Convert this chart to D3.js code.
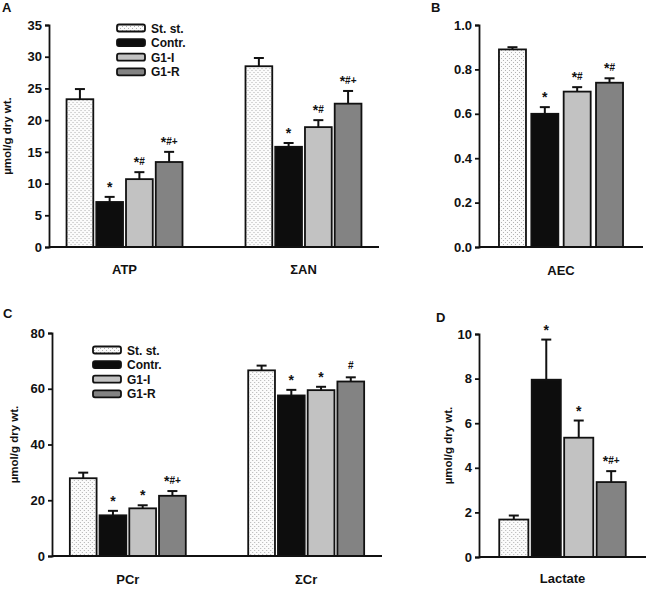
<!DOCTYPE html>
<html><head><meta charset="utf-8">
<script src="https://cdn.jsdelivr.net/npm/d3@7"></script>
<style>
body{margin:0;background:#fff;}
text{font-family:"Liberation Sans",Arial,sans-serif;font-weight:bold;fill:#111;}
</style></head>
<body>
<svg id="chart" width="650" height="590"></svg>
<script>
// ---- data ----
const series = ["St. st.", "Contr.", "G1-I", "G1-R"];
const seriesFill = ["url(#dots)", "#0d0d0d", "#c2c2c2", "#838383"];

const catsA = ["ATP", "\u03A3AN"];
const meanA = [[23.3, 7.1, 10.7, 13.4], [28.5, 15.8, 18.9, 22.6]];
const errA  = [[1.6, 0.8, 1.1, 1.6],   [1.3, 0.6, 1.1, 2.0]];
const sigA  = [["", "*", "*#", "*#+"], ["", "*", "*#", "*#+"]];
const ticksA = [0, 5, 10, 15, 20, 25, 30, 35];

const catsB = ["AEC"];
const meanB = [[0.89, 0.60, 0.70, 0.74]];
const errB  = [[0.01, 0.03, 0.02, 0.02]];
const sigB  = [["", "*", "*#", "*#"]];
const ticksB = [0, 0.2, 0.4, 0.6, 0.8, 1.0];

const catsC = ["PCr", "\u03A3Cr"];
const meanC = [[27.9, 14.6, 17.1, 21.6], [66.6, 57.6, 59.5, 62.6]];
const errC  = [[2.0, 1.6, 1.1, 1.7],    [1.7, 2.0, 1.2, 1.5]];
const sigC  = [["", "*", "*", "*#+"], ["", "*", "*", "#"]];
const ticksC = [0, 20, 40, 60, 80];

const catsD = ["Lactate"];
const meanD = [[1.68, 7.95, 5.35, 3.36]];
const errD  = [[0.18, 1.8, 0.77, 0.49]];
const sigD  = [["", "*", "*", "*#+"]];
const ticksD = [0, 2, 4, 6, 8, 10];

const yTitle = "\u00B5mol/g dry wt.";

const svg = d3.select("#chart");
const defs = svg.append("defs");
const pat = defs.append("pattern").attr("id", "dots").attr("patternUnits", "userSpaceOnUse")
  .attr("width", 4).attr("height", 4);
pat.append("rect").attr("width", 4).attr("height", 4).attr("fill", "#fbfbfb");
pat.append("rect").attr("x", 0).attr("y", 0).attr("width", 1).attr("height", 1).attr("fill", "#b0b0b0");
pat.append("rect").attr("x", 2).attr("y", 2).attr("width", 1).attr("height", 1).attr("fill", "#b0b0b0");

function sigText(sel, s) {
  const hasStar = s[0] === "*";
  [...s].forEach((ch, i) => {
    const t = sel.append("tspan").text(ch);
    if (ch === "*") {
      t.attr("font-size", 14);
    } else {
      t.attr("font-size", 10);
      if (i === 0) t.attr("dy", -3);
      else if (i === 1 && hasStar) t.attr("dy", -2);
    }
  });
}

function panel(o) {
  const g = svg.append("g");
  const y = d3.scaleLinear().domain(o.domain).range([o.y0, o.y1]);
  const x0 = d3.scaleBand().domain(o.cats).range([o.xa, o.xb])
    .paddingInner(o.pin).paddingOuter(o.pout);
  const x1 = d3.scaleBand().domain(series).range([0, x0.bandwidth()]).paddingInner(o.bpad);

  o.cats.forEach((c, ci) => {
    const gg = g.append("g").attr("transform", `translate(${x0(c)},0)`);
    series.forEach((s, si) => {
      const v = o.mean[ci][si], e = o.err[ci][si];
      const bx = x1(s), bw = x1.bandwidth(), cx = bx + bw / 2;
      gg.append("line").attr("x1", cx).attr("x2", cx).attr("y1", y(v)).attr("y2", y(v + e))
        .attr("stroke", "#111").attr("stroke-width", 2);
      gg.append("line").attr("x1", cx - 5).attr("x2", cx + 5).attr("y1", y(v + e)).attr("y2", y(v + e))
        .attr("stroke", "#111").attr("stroke-width", 2);
      gg.append("rect").attr("x", bx).attr("y", y(v)).attr("width", bw).attr("height", y(0) - y(v))
        .attr("fill", seriesFill[si]).attr("stroke", "#111").attr("stroke-width", 1.8);
      const sg = o.sig[ci][si];
      if (sg) {
        const t = gg.append("text").attr("x", cx).attr("y", y(v + e) - 5).attr("text-anchor", "middle");
        sigText(t, sg);
      }
    });
    g.append("text").attr("x", x0(c) + x0.bandwidth() / 2).attr("y", o.catY)
      .attr("text-anchor", "middle").attr("font-size", 13).text(c);
  });

  const ya = d3.axisLeft(y).tickValues(o.ticks).tickSize(4).tickPadding(3).tickFormat(o.fmt);
  const ag = g.append("g").attr("transform", `translate(${o.xa},0)`).call(ya);
  ag.select(".domain").attr("stroke", "#111").attr("stroke-width", 1.8);
  ag.selectAll(".tick line").attr("stroke", "#111").attr("stroke-width", 1.8);
  ag.selectAll(".tick text").attr("font-size", 13).attr("fill", "#111")
    .attr("font-family", "Liberation Sans, Arial, sans-serif").attr("font-weight", "bold");
  g.append("line").attr("x1", o.xa).attr("x2", o.xb).attr("y1", y(0)).attr("y2", y(0))
    .attr("stroke", "#111").attr("stroke-width", 1.8);

  if (o.title) {
    g.append("text").attr("transform", `translate(${o.titleX},${(o.y0 + o.y1) / 2}) rotate(-90)`)
      .attr("text-anchor", "middle").attr("font-size", 11.5).text(o.title);
  }
  g.append("text").attr("x", o.letterX).attr("y", o.letterY).attr("font-size", 13).text(o.letter);

  if (o.legend) {
    series.forEach((s, si) => {
      const ly = o.legend[1] + si * 14.6;
      g.append("rect").attr("x", o.legend[0]).attr("y", ly - 3.5).attr("width", 28).attr("height", 7)
        .attr("rx", 2).attr("fill", seriesFill[si]).attr("stroke", "#111").attr("stroke-width", 1.8);
      g.append("text").attr("x", o.legend[0] + 34).attr("y", ly + 4.5).attr("font-size", 12).text(s);
    });
  }
}

panel({cats: catsA, mean: meanA, err: errA, sig: sigA, ticks: ticksA, domain: [0, 35], fmt: d3.format("d"),
  y0: 247, y1: 25, xa: 49, xb: 379, pin: 0.352, pout: 0.098, bpad: 0.1, catY: 274,
  title: yTitle, titleX: 11, letter: "A", letterX: 2, letterY: 12, legend: [117, 28]});
panel({cats: catsB, mean: meanB, err: errB, sig: sigB, ticks: ticksB, domain: [0, 1], fmt: d3.format(".1f"),
  y0: 247, y1: 25, xa: 479, xb: 643, pin: 0, pout: 0.161, bpad: 0.165, catY: 275,
  title: null, letter: "B", letterX: 431, letterY: 12});
panel({cats: catsC, mean: meanC, err: errC, sig: sigC, ticks: ticksC, domain: [0, 80], fmt: d3.format("d"),
  y0: 556, y1: 333, xa: 52, xb: 382, pin: 0.35, pout: 0.1, bpad: 0.1, catY: 584,
  title: yTitle, titleX: 18, letter: "C", letterX: 3, letterY: 318, legend: [93, 350]});
panel({cats: catsD, mean: meanD, err: errD, sig: sigD, ticks: ticksD, domain: [0, 10], fmt: d3.format("d"),
  y0: 557, y1: 334, xa: 479, xb: 646, pin: 0, pout: 0.16, bpad: 0.103, catY: 583,
  title: yTitle, titleX: 452, letter: "D", letterX: 436, letterY: 322});
</script>
</body></html>
